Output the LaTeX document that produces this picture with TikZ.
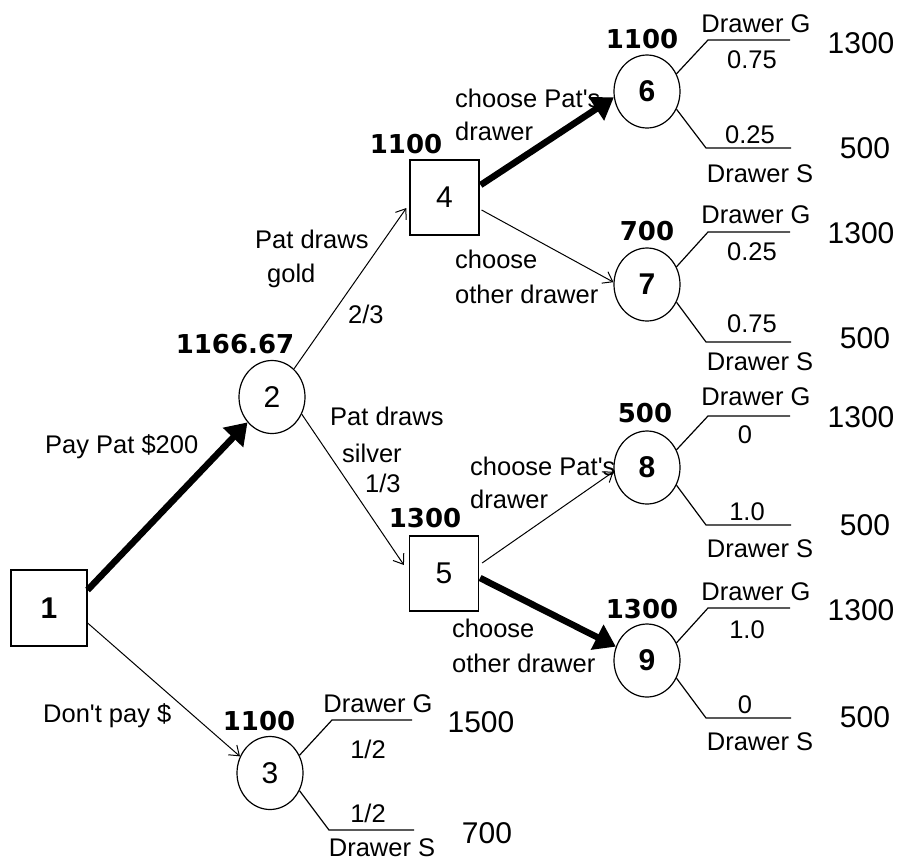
\documentclass[tikz,border=0pt]{standalone}
\usepackage{fontspec}
\setmainfont{Liberation Sans}
\newfontfamily\valfont{DejaVu Sans}
\usetikzlibrary{arrows.meta,shapes.geometric,calc}
\begin{document}
\begin{tikzpicture}[x=1pt,y=-1pt,
  lbl/.style={font=\fontsize{25.5}{28}\selectfont, inner sep=0pt, anchor=base west},
  lblc/.style={font=\fontsize{25.5}{28}\selectfont, inner sep=0pt, anchor=base},
  pay/.style={font=\fontsize{30}{32}\selectfont, inner sep=0pt, anchor=base},
  val/.style={font=\valfont\bfseries\fontsize{26}{28}\selectfont, inner sep=0pt, anchor=base},
  dec/.style={draw, rectangle, line width=1.2pt, minimum width=69pt, minimum height=75pt, inner sep=0pt, font=\fontsize{30}{32}\selectfont},
  chance/.style={draw, ellipse, line width=1.2pt, minimum width=66pt, minimum height=73pt, inner sep=0pt, font=\fontsize{30}{32}\selectfont},
  plainarr/.style={line width=1pt, -{Straight Barb[length=9pt,width=13pt,line width=1pt]}},
  heavyarr/.style={line width=6.5pt, -{Triangle[length=21pt,width=27pt]}},
  branch/.style={line width=1.2pt}
]
\useasboundingbox (0,0) rectangle (899,860);

% decision and chance nodes
\node[dec, minimum width=76pt, minimum height=76pt, font=\bfseries\fontsize{30}{32}\selectfont] (n1) at (49,608) {1};
\node[chance] (n2) at (272,397) {2};
\node[chance] (n3) at (270,773) {3};
\node[dec] (n4) at (444.5,197.5) {4};
\node[dec] (n5) at (444,573.5) {5};
\node[chance, font=\bfseries\fontsize{30}{32}\selectfont] (n6) at (647,91.5) {6};
\node[chance, font=\bfseries\fontsize{30}{32}\selectfont] (n7) at (647,284.5) {7};
\node[chance, font=\bfseries\fontsize{30}{32}\selectfont] (n8) at (647,467.5) {8};
\node[chance, font=\bfseries\fontsize{30}{32}\selectfont] (n9) at (647,660.5) {9};

% expected values
\node[val] (v2) at (235,353) {1166.67};
\node[val] (v3) at (259,730) {1100};
\node[val] (v4) at (406,153) {1100};
\node[val] (v5) at (425,527) {1300};
\node[val] (v6) at (642,48) {1100};
\node[val] (v7) at (647,240) {700};
\node[val] (v8) at (645,422) {500};
\node[val] (v9) at (642,618) {1300};

% connectors
\draw[heavyarr] ([yshift=18pt]n1.east) -- (n2.226);
\draw[plainarr] ([yshift=-15pt]n1.east) -- (n3.151);
\draw[plainarr] (n2.52) -- ([xshift=-3pt,yshift=-10.5pt]n4.west);
\draw[plainarr] (n2.-30) -- ([xshift=-5pt,yshift=8.5pt]n5.west);
\draw[heavyarr] ([xshift=1pt,yshift=12.5pt]n4.east) -- (n6.190);
\draw[plainarr] ([xshift=2pt,yshift=-12.5pt]n4.east) -- (n7.176);
\draw[plainarr] ([xshift=3pt,yshift=10.5pt]n5.east) -- (n8.187);
\draw[heavyarr] ([xshift=1pt,yshift=-4.5pt]n5.east) -- (n9.156);

% edge labels
\node[lbl] (e12) at (45,453) {Pay Pat \$200};
\node[lbl] (e13) at (43,722) {Don\textquotesingle t pay \$};
\node[lbl] (e24a) at (255,248) {Pat draws};
\node[lbl] (e24b) at (267,282) {gold};
\node[lbl] (e24c) at (348,323) {2/3};
\node[lbl] (e25a) at (330,425) {Pat draws};
\node[lbl] (e25b) at (342,462) {silver};
\node[lbl] (e25c) at (365,492) {1/3};
\node[lbl] (e46a) at (455,107) {choose Pat\textquotesingle s};
\node[lbl] (e46b) at (455,140) {drawer};
\node[lbl] (e47a) at (455,268) {choose};
\node[lbl] (e47b) at (455,303) {other drawer};
\node[lbl] (e58a) at (470,475) {choose Pat\textquotesingle s};
\node[lbl] (e58b) at (470,508) {drawer};
\node[lbl] (e59a) at (452,637) {choose};
\node[lbl] (e59b) at (452,672) {other drawer};

% branches of node 3
\coordinate (n3gc) at (332,720); \coordinate (n3ge) at (412,720);
\coordinate (n3sc) at (329,830); \coordinate (n3se) at (414,830);
\draw[branch] (n3.31) -- (n3gc) -- (n3ge);
\draw[branch] (n3.-31) -- (n3sc) -- (n3se);
\node[lblc] (n3dg) at (378,712) {Drawer G};
\node[lblc] (n3pg) at (368,758) {1/2};
\node[pay] (n3vg) at (481,732) {1500};
\node[lblc] (n3ps) at (368,822) {1/2};
\node[lblc] (n3ds) at (382,856) {Drawer S};
\node[pay] (n3vs) at (487,843) {700};

% branches of node 6
\coordinate (n6gc) at (708,40); \coordinate (n6ge) at (790,40);
\coordinate (n6sc) at (706,148); \coordinate (n6se) at (791,148);
\draw[branch] (n6.31) -- (n6gc) -- (n6ge);
\draw[branch] (n6.-31) -- (n6sc) -- (n6se);
\node[lblc] (n6dg) at (756,32) {Drawer G};
\node[lblc] (n6pg) at (752,68) {0.75};
\node[pay] (n6vg) at (861,53) {1300};
\node[lblc] (n6ps) at (750,143) {0.25};
\node[lblc] (n6ds) at (760,182) {Drawer S};
\node[pay] (n6vs) at (865,158) {500};

% branches of node 7
\coordinate (n7gc) at (708,232); \coordinate (n7ge) at (790,232);
\coordinate (n7sc) at (706,342); \coordinate (n7se) at (791,342);
\draw[branch] (n7.31) -- (n7gc) -- (n7ge);
\draw[branch] (n7.-31) -- (n7sc) -- (n7se);
\node[lblc] (n7dg) at (756,223) {Drawer G};
\node[lblc] (n7pg) at (752,260) {0.25};
\node[pay] (n7vg) at (861,243) {1300};
\node[lblc] (n7ps) at (752,332) {0.75};
\node[lblc] (n7ds) at (760,370) {Drawer S};
\node[pay] (n7vs) at (865,348) {500};

% branches of node 8
\coordinate (n8gc) at (708,416); \coordinate (n8ge) at (790,416);
\coordinate (n8sc) at (706,525); \coordinate (n8se) at (791,525);
\draw[branch] (n8.31) -- (n8gc) -- (n8ge);
\draw[branch] (n8.-31) -- (n8sc) -- (n8se);
\node[lblc] (n8dg) at (756,405) {Drawer G};
\node[lblc] (n8pg) at (745,443) {0};
\node[pay] (n8vg) at (861,427) {1300};
\node[lblc] (n8ps) at (747,520) {1.0};
\node[lblc] (n8ds) at (760,557) {Drawer S};
\node[pay] (n8vs) at (865,535) {500};

% branches of node 9
\coordinate (n9gc) at (708,608); \coordinate (n9ge) at (790,608);
\coordinate (n9sc) at (706,718); \coordinate (n9se) at (791,718);
\draw[branch] (n9.31) -- (n9gc) -- (n9ge);
\draw[branch] (n9.-31) -- (n9sc) -- (n9se);
\node[lblc] (n9dg) at (756,600) {Drawer G};
\node[lblc] (n9pg) at (747,638) {1.0};
\node[pay] (n9vg) at (861,620) {1300};
\node[lblc] (n9ps) at (745,713) {0};
\node[lblc] (n9ds) at (760,750) {Drawer S};
\node[pay] (n9vs) at (865,727) {500};
\end{tikzpicture}
\end{document}
